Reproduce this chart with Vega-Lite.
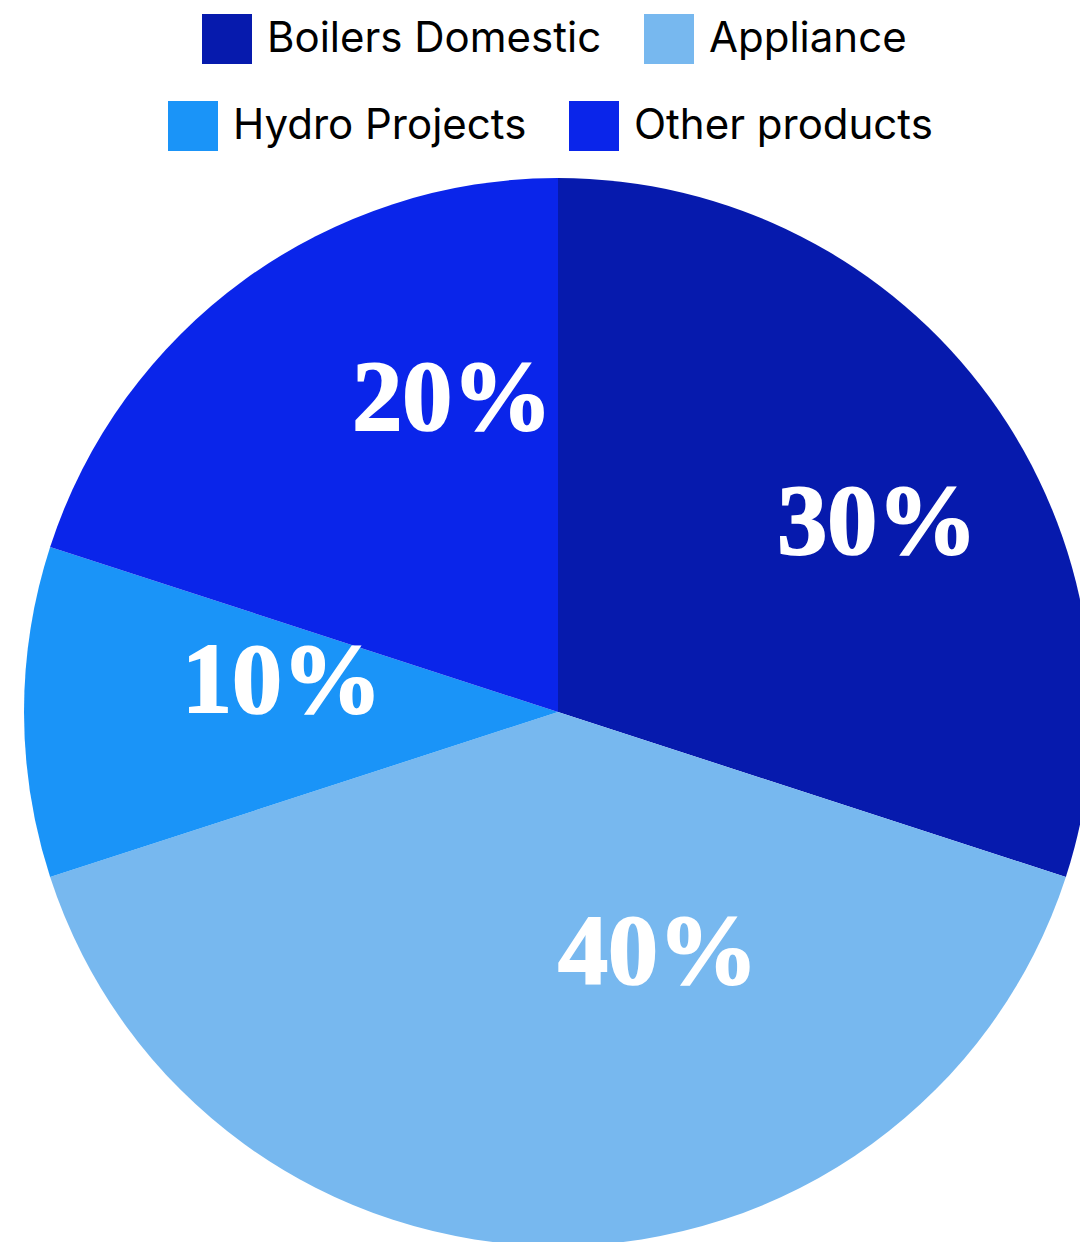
{
  "$schema": "https://vega.github.io/schema/vega-lite/v6.json",
  "autosize": {"type": "none"},
  "padding": {"left": 36, "top": 182, "right": 0, "bottom": 0},
  "width": 1044,
  "height": 1060,
  "background": "white",
  "config": {"view": {"stroke": null}},
  "data": {
    "values": [
      {"category": "Boilers Domestic", "value": 30},
      {"category": "Appliance", "value": 40},
      {"category": "Hydro Projects", "value": 10},
      {"category": "Other products", "value": 20}
    ]
  },
  "transform": [
    {"stack": "value", "groupby": [], "as": ["start", "end"]},
    {"calculate": "(datum.start + datum.end) / 2", "as": "mid"},
    {"calculate": "datum.value + '%'", "as": "label"}
  ],
  "layer": [
    {
      "transform": [{"filter": {"field": "category", "oneOf": ["Boilers Domestic", "Appliance"]}}],
      "mark": {"type": "arc", "radius": 534},
      "encoding": {
        "theta": {"field": "start", "type": "quantitative", "scale": {"domain": [0, 100]}},
        "theta2": {"field": "end"},
        "color": {
          "field": "category", "type": "nominal",
          "scale": {"domain": ["Boilers Domestic", "Appliance"], "range": ["#061aad", "#77b8ef"]},
          "legend": {
            "title": null, "orient": "none", "legendX": 166, "legendY": -168,
            "direction": "horizontal", "symbolType": "square", "symbolSize": 2500,
            "symbolStrokeWidth": 0, "symbolOpacity": 1, "labelFont": "Inter", "labelFontSize": 42,
            "labelColor": "#000000", "labelOffset": 15, "columnPadding": 42, "padding": 0,
            "labelLimit": 1000
          }
        }
      }
    },
    {
      "transform": [{"filter": {"field": "category", "oneOf": ["Hydro Projects", "Other products"]}}],
      "mark": {"type": "arc", "radius": 534},
      "encoding": {
        "theta": {"field": "start", "type": "quantitative", "scale": {"domain": [0, 100]}},
        "theta2": {"field": "end"},
        "color": {
          "field": "category", "type": "nominal",
          "scale": {"domain": ["Hydro Projects", "Other products"], "range": ["#1a94f8", "#0a25ea"]},
          "legend": {
            "title": null, "orient": "none", "legendX": 132, "legendY": -81,
            "direction": "horizontal", "symbolType": "square", "symbolSize": 2500,
            "symbolStrokeWidth": 0, "symbolOpacity": 1, "labelFont": "Inter", "labelFontSize": 42,
            "labelColor": "#000000", "labelOffset": 15, "columnPadding": 42, "padding": 0,
            "labelLimit": 1000
          }
        }
      }
    },
    {
      "mark": {"type": "text", "align": "left", "baseline": "alphabetic", "font": "Liberation Serif", "fontWeight": "bold", "fontSize": 100, "color": "white", "stroke": "white", "strokeWidth": 2},
      "encoding": {
        "theta": {"field": "mid", "type": "quantitative", "scale": {"domain": [0, 100]}},
        "radius": {"field": "value", "type": "quantitative", "scale": {"type": "linear", "zero": false, "domain": [10, 20, 30, 40], "range": [376, 350, 271, 271]}},
        "text": {"field": "label"}
      }
    }
  ],
  "resolve": {"scale": {"color": "independent"}, "legend": {"color": "independent"}}
}
